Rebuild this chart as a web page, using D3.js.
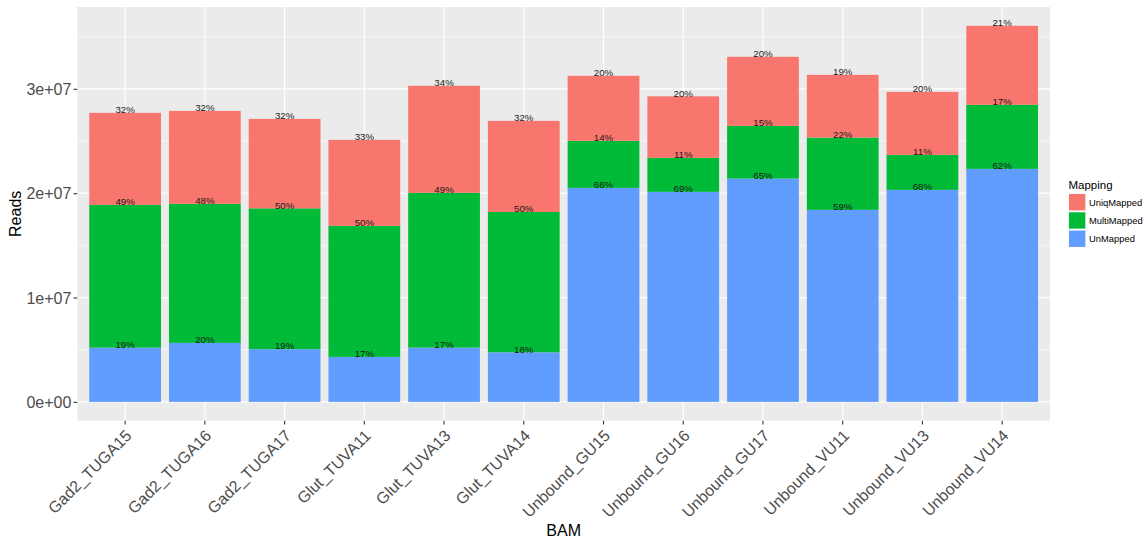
<!DOCTYPE html>
<html>
<head>
<meta charset="utf-8">
<script src="https://cdn.jsdelivr.net/npm/d3@7"></script>
<style>
  html, body { margin: 0; padding: 0; background: #fff; }
  svg { display: block; font-family: "Liberation Sans", Arial, Helvetica, sans-serif; }
</style>
</head>
<body>
<svg id="chart" width="1146" height="537"></svg>
<script>
// ---- data ----
const categories = ["Gad2_TUGA15", "Gad2_TUGA16", "Gad2_TUGA17", "Glut_TUVA11", "Glut_TUVA13", "Glut_TUVA14",
                    "Unbound_GU15", "Unbound_GU16", "Unbound_GU17", "Unbound_VU11", "Unbound_VU13", "Unbound_VU14"];
const unMapped    = [5200000, 5655000, 5050000, 4310000, 5200000, 4750000, 20510000, 20130000, 21400000, 18400000, 20320000, 22330000];
const multiMapped = [13680000, 13325000, 13500000, 12560000, 14830000, 13450000, 4510000, 3260000, 5050000, 6930000, 3350000, 6140000];
const uniqMapped  = [8820000, 8910000, 8570000, 8240000, 10260000, 8730000, 6230000, 5890000, 6620000, 6010000, 6040000, 7570000];
const seriesNames = ["UniqMapped", "MultiMapped", "UnMapped"];   // legend order
const stackOrder  = ["UnMapped", "MultiMapped", "UniqMapped"];   // bottom to top
const seriesColors = ["#F8766D", "#00BA38", "#619CFF"];
const yTicks = [0, 10000000, 20000000, 30000000];
const yTickLabels = ["0e+00", "1e+07", "2e+07", "3e+07"];

// ---- layout ----
const svg = d3.select("#chart");
const P = { left: 77.3, right: 1050, top: 7, bottom: 420.7 };

const rows = categories.map((c, i) => ({
  BAM: c, UnMapped: unMapped[i], MultiMapped: multiMapped[i], UniqMapped: uniqMapped[i],
  total: unMapped[i] + multiMapped[i] + uniqMapped[i]
}));
const stacked = d3.stack().keys(stackOrder)(rows);
const maxTotal = d3.max(rows, d => d.total);

const x = d3.scaleBand().domain(categories).range([P.left, P.right]).paddingInner(0.1).paddingOuter(0.15);
const y = d3.scaleLinear().domain([-0.05 * maxTotal, maxTotal * 1.05]).range([P.bottom, P.top]);
const color = d3.scaleOrdinal().domain(seriesNames).range(seriesColors);

// panel
svg.append("rect").attr("x", P.left).attr("y", P.top)
  .attr("width", P.right - P.left).attr("height", P.bottom - P.top).attr("fill", "#EBEBEB");

// minor grid
const minor = [5000000, 15000000, 25000000, 35000000].filter(v => y(v) > P.top);
svg.append("g").selectAll("line").data(minor).join("line")
  .attr("x1", P.left).attr("x2", P.right).attr("y1", d => y(d)).attr("y2", d => y(d))
  .attr("stroke", "#fff").attr("stroke-width", 0.6);
// major grid
svg.append("g").selectAll("line").data(yTicks).join("line")
  .attr("x1", P.left).attr("x2", P.right).attr("y1", d => y(d)).attr("y2", d => y(d))
  .attr("stroke", "#fff").attr("stroke-width", 1.2);
svg.append("g").selectAll("line").data(categories).join("line")
  .attr("x1", d => x(d) + x.bandwidth() / 2).attr("x2", d => x(d) + x.bandwidth() / 2)
  .attr("y1", P.top).attr("y2", P.bottom)
  .attr("stroke", "#fff").attr("stroke-width", 1.2);

// bars
stacked.forEach(layer => {
  svg.append("g").attr("fill", color(layer.key)).selectAll("rect").data(layer).join("rect")
    .attr("x", d => x(d.data.BAM))
    .attr("width", x.bandwidth())
    .attr("y", d => y(d[1]))
    .attr("height", d => y(d[0]) - y(d[1]));
});

// percentage labels at the top of each segment
stacked.forEach(layer => {
  svg.append("g").selectAll("text").data(layer).join("text")
    .attr("x", d => x(d.data.BAM) + x.bandwidth() / 2)
    .attr("y", d => y(d[1]) + 0.3)
    .attr("text-anchor", "middle")
    .attr("font-size", "9.7px")
    .attr("fill", "#1a1a1a")
    .text(d => Math.round((d[1] - d[0]) / d.data.total * 100) + "%");
});

// y axis
const yAxis = d3.axisLeft(y).tickValues(yTicks).tickSize(3.7).tickPadding(2.2)
  .tickFormat((d, i) => yTickLabels[i]);
const gy = svg.append("g").attr("transform", `translate(${P.left},0)`).call(yAxis);
gy.select(".domain").remove();
gy.selectAll("line").attr("stroke", "#333").attr("stroke-width", 1.1);
gy.selectAll("text").attr("fill", "#4D4D4D").attr("font-size", "16px")
  .attr("font-family", "Liberation Sans, Arial, sans-serif").attr("dy", "0.36em");

// x axis
const xAxis = d3.axisBottom(x).tickSize(3.7).tickFormat(d => d);
const gx = svg.append("g").attr("transform", `translate(0,${P.bottom})`).call(xAxis);
gx.select(".domain").remove();
gx.selectAll("line").attr("stroke", "#333").attr("stroke-width", 1.1);
gx.selectAll("text")
  .attr("fill", "#4D4D4D").attr("font-size", "16px")
  .attr("font-family", "Liberation Sans, Arial, sans-serif")
  .attr("text-anchor", "end")
  .attr("dy", null).attr("y", null)
  .attr("transform", "translate(7.5,16) rotate(-45)");

// axis titles
svg.append("text").attr("x", (P.left + P.right) / 2).attr("y", 535.5)
  .attr("text-anchor", "middle").attr("font-size", "16px").attr("fill", "#000").text("BAM");
svg.append("text").attr("transform", `translate(20.7,${(P.top + P.bottom) / 2}) rotate(-90)`)
  .attr("text-anchor", "middle").attr("font-size", "16px").attr("fill", "#000").text("Reads");

// legend
const lg = svg.append("g").attr("transform", "translate(1068.5,0)");
lg.append("text").attr("x", 0).attr("y", 188.5).attr("font-size", "11.5px").attr("fill", "#000").text("Mapping");
const items = lg.selectAll("g.item").data(seriesNames).join("g")
  .attr("transform", (d, i) => `translate(0,${193.5 + i * 18.3})`);
items.append("rect").attr("width", 17.3).attr("height", 17.3).attr("fill", "#F2F2F2");
items.append("rect").attr("x", 0.5).attr("y", 0.5).attr("width", 16.3).attr("height", 16.3).attr("fill", d => color(d));
items.append("text").attr("x", 20.5).attr("y", 12.2).attr("font-size", "9.4px").attr("fill", "#000").text(d => d);
</script>
</body>
</html>
